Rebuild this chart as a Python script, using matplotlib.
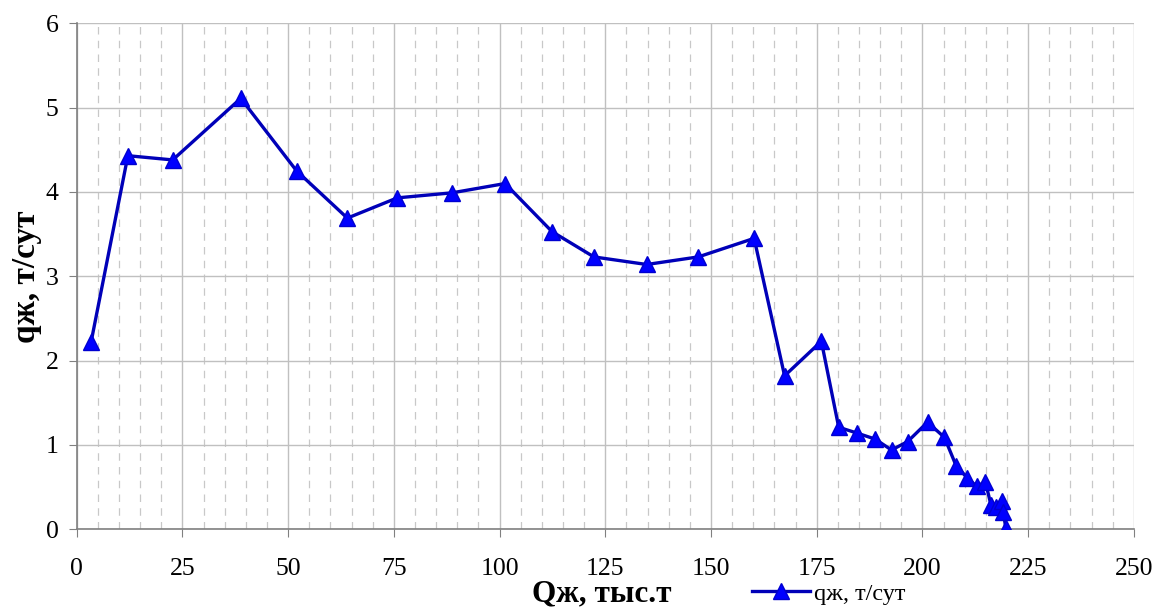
import matplotlib
matplotlib.use("Agg")
import matplotlib.pyplot as plt
from matplotlib.lines import Line2D
from matplotlib.ticker import MultipleLocator

# Cumulative liquid production, thousand tonnes
q_cum = [3.4, 12.1, 22.7, 38.8, 52.0, 64.0, 75.8, 88.8, 101.3, 112.4,
         122.3, 134.8, 147.0, 160.2, 167.4, 176.1, 180.2, 184.6, 188.8, 192.7,
         196.5, 201.2, 205.2, 208.0, 210.6, 212.8, 214.9, 216.2, 217.3, 218.7,
         219.1, 219.7]
# Liquid flow rate, t/day
q_rate = [2.22, 4.43, 4.38, 5.11, 4.25, 3.69, 3.93, 3.99, 4.10, 3.53,
          3.23, 3.14, 3.23, 3.45, 1.82, 2.23, 1.21, 1.14, 1.07, 0.94,
          1.04, 1.27, 1.09, 0.75, 0.61, 0.51, 0.56, 0.29, 0.27, 0.33,
          0.21, 0.02]

x_ticks = [0, 25, 50, 75, 100, 125, 150, 175, 200, 225, 250]
y_ticks = [0, 1, 2, 3, 4, 5, 6]
series_label = "qж, т/сут"

plt.rcParams['font.family'] = ['Liberation Serif', 'DejaVu Serif']

fig = plt.figure(figsize=(11.57, 6.10), dpi=100)
ax = fig.add_axes([0.0663, 0.1323, 0.9137, 0.8295])

ax.set_xlim(0, 250)
ax.set_ylim(0, 6)
ax.set_xticks(x_ticks)
ax.set_yticks(y_ticks)
ax.xaxis.set_minor_locator(MultipleLocator(5))

ax.grid(True, which='major', axis='both', color='#c0c0c0', linewidth=1.0)
ax.grid(True, which='minor', axis='x', color='#c8c8c8', linewidth=0.9,
        linestyle=(0, (6, 5)))
ax.set_axisbelow(True)

for side in ('top', 'right'):
    ax.spines[side].set_visible(False)
for side in ('left', 'bottom'):
    ax.spines[side].set_color('#808080')
    ax.spines[side].set_linewidth(1.2)

ax.tick_params(axis='both', which='major', direction='out', length=6,
               color='#808080', labelsize=18.5)
ax.tick_params(axis='x', pad=15)
ax.tick_params(axis='y', pad=7)
ax.tick_params(axis='x', which='minor', length=0)

ax.plot(q_cum, q_rate, color='#0000b8', linewidth=2.4,
        marker='^', markersize=11, markerfacecolor='#0000ff',
        markeredgecolor='#0000d0', markeredgewidth=1.0, zorder=3)

ax.set_xlabel("Qж, тыс.т", fontsize=22.5, fontweight='bold')
ax.set_ylabel("qж, т/сут", fontsize=24, fontweight='bold')
ax.xaxis.set_label_coords(0.497, -0.100)
ax.yaxis.set_label_coords(-0.033, 0.50)

handle = Line2D([], [], color='#0000b8', linewidth=2.4, marker='^',
                markersize=11, markerfacecolor='#0000ff',
                markeredgecolor='#0000d0')
fig.legend([handle], [series_label], loc='center left',
           bbox_to_anchor=(0.650, 0.027), frameon=False, fontsize=17.5,
           handlelength=2.4, handletextpad=0.15, borderaxespad=0,
           borderpad=0)

fig.savefig("out.png", dpi=100)
